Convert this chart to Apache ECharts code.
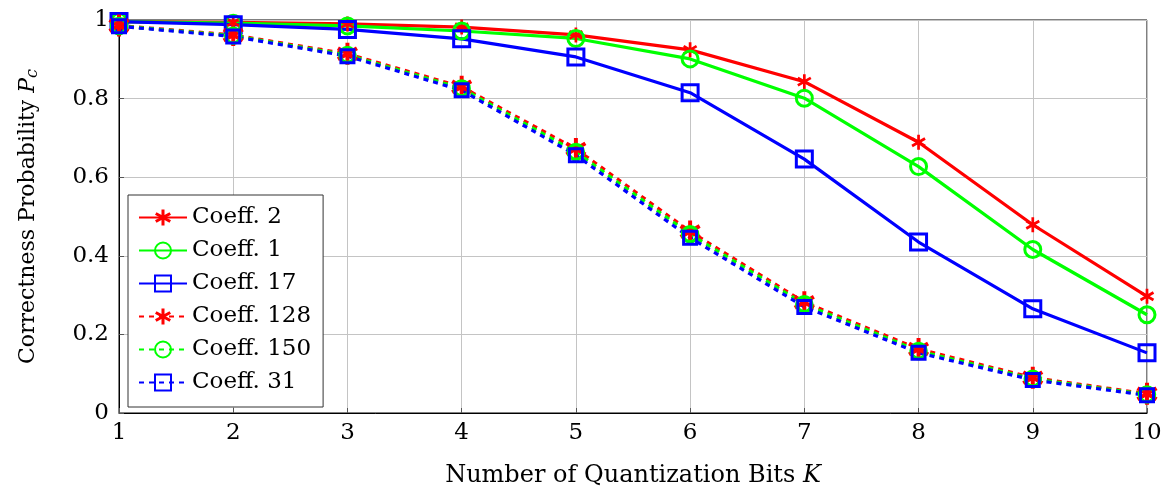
<!DOCTYPE html>
<html><head><meta charset="utf-8">
<script src="https://cdn.jsdelivr.net/npm/echarts@6/dist/echarts.min.js"></script>
<style>html,body{margin:0;padding:0;background:#fff}#c{width:1165px;height:486px}</style>
</head><body><div id="c"></div>
<script>
const bits = [1,2,3,4,5,6,7,8,9,10];
const coeff2   = [0.996,0.994,0.990,0.982,0.962,0.924,0.843,0.689,0.479,0.297];
const coeff1   = [0.996,0.992,0.985,0.972,0.953,0.901,0.801,0.627,0.416,0.250];
const coeff17  = [0.996,0.988,0.976,0.952,0.906,0.815,0.646,0.435,0.265,0.153];
const coeff128 = [0.986,0.962,0.914,0.830,0.672,0.462,0.282,0.163,0.090,0.049];
const coeff150 = [0.985,0.960,0.911,0.826,0.664,0.455,0.277,0.158,0.087,0.047];
const coeff31  = [0.984,0.958,0.908,0.821,0.656,0.446,0.270,0.153,0.084,0.045];
const yTicks = [0,0.2,0.4,0.6,0.8,1];
const xTicks = [1,2,3,4,5,6,7,8,9,10];

const RED='#ff0000', GREEN='#00ff00', BLUE='#0000ff';
const STAR='path://M82,0 L118,0 L118,200 L82,200 Z M195.6,65.6 L22.4,165.6 L4.4,134.4 L177.6,34.4 Z M177.6,165.6 L4.4,65.6 L22.4,34.4 L195.6,134.4 Z';
const font = "'DejaVu Serif','Liberation Serif',serif";

function pairs(arr){ return bits.map((b,i)=>[b,arr[i]]); }
function mk(name, data, color, dashed, symbol, size, filled, bw){
  return {
    name, type:'line', data:pairs(data), symbol, symbolSize:size, symbolKeepAspect:true,
    showAllSymbol:true,
    lineStyle:{color, width:3.2, type: dashed ? [5,5] : 'solid'},
    itemStyle:{color: filled ? color : 'rgba(0,0,0,0)', borderColor:color, borderWidth: filled?0:bw},
    emphasis:{disabled:true}, animation:false, z: 2
  };
}
const series = [
  mk('Coeff. 2', coeff2, RED, false, STAR, 15, true, 0),
  mk('Coeff. 1', coeff1, GREEN, false, 'circle', 16, false, 3),
  mk('Coeff. 17', coeff17, BLUE, false, 'rect', 16, false, 3),
  mk('Coeff. 128', coeff128, RED, true, STAR, 22, true, 0),
  mk('Coeff. 150', coeff150, GREEN, true, 'circle', 15, false, 3.5),
  mk('Coeff. 31', coeff31, BLUE, true, 'rect', 13, false, 3)
];

const chart = echarts.init(document.getElementById('c'), null, {renderer:'canvas'});
chart.setOption({
  animation:false,
  backgroundColor:'#fff',
  grid:{left:119, right:18, top:20, bottom:73, show:true, borderColor:'#000', borderWidth:1,
        containLabel:false, outerBoundsMode:'none'},
  legend:{
    orient:'vertical', left:128, top:195, padding:[11,12,13,10],
    itemWidth:48, itemHeight:20, itemGap:10,
    borderColor:'#333', borderWidth:1, backgroundColor:'#fff',
    textStyle:{fontFamily:font, fontSize:23, color:'#000'},
    data: series.map(s=>s.name)
  },
  xAxis:{
    type:'value', min:1, max:10, interval:1,
    name:'Number of Quantization Bits {i|K}', nameLocation:'middle', nameGap:51,
    nameTextStyle:{fontFamily:font, fontSize:24, color:'#000', rich:{i:{fontFamily:font,fontSize:24,fontStyle:'italic',color:'#000'}}},
    axisLine:{lineStyle:{color:'#000', width:1}},
    axisTick:{show:true, inside:true, length:5, lineStyle:{color:'#555'}},
    axisLabel:{fontFamily:font, fontSize:23, color:'#000', margin:9, formatter:v=>xTicks.includes(v)?String(v):''},
    splitLine:{show:true, lineStyle:{color:'#c4c4c4', width:1}}
  },
  yAxis:{
    type:'value', min:0, max:1, interval:0.2,
    name:'Correctness Probability {i|P}{s|c}', nameLocation:'middle', nameGap:78,
    nameTextStyle:{fontFamily:font, fontSize:22, color:'#000', rich:{
      i:{fontFamily:font,fontSize:22,fontStyle:'italic',color:'#000'},
      s:{fontFamily:font,fontSize:16,fontStyle:'italic',color:'#000', padding:[10,0,0,0]}
    }},
    axisLine:{show:true, lineStyle:{color:'#000', width:1}},
    axisTick:{show:true, inside:true, length:5, lineStyle:{color:'#555'}},
    axisLabel:{fontFamily:font, fontSize:23, color:'#000', margin:10,
      formatter:v=>{ const t=yTicks.find(x=>Math.abs(x-v)<1e-9); return t===undefined?'':String(t);} },
    splitLine:{show:true, lineStyle:{color:'#c4c4c4', width:1}}
  },
  series
});
</script></body></html>
